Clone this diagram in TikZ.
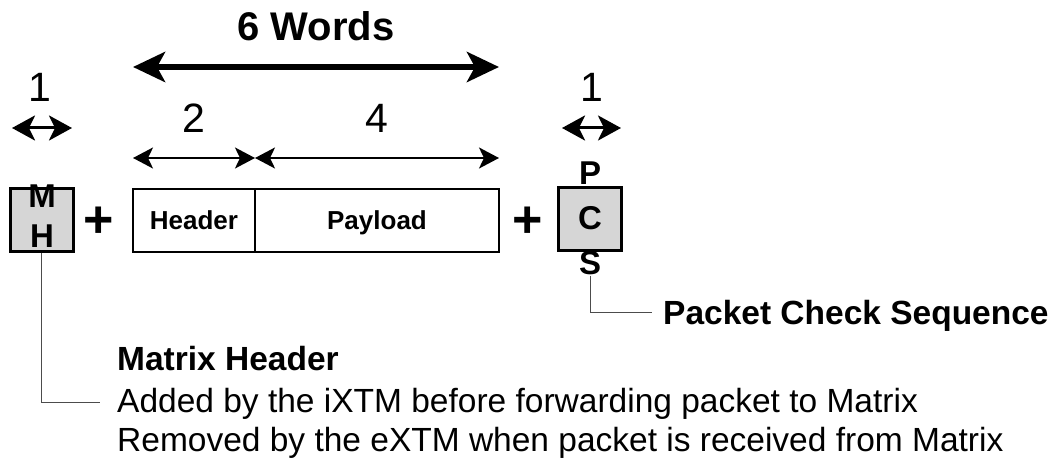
\documentclass[tikz,border=0pt]{standalone}
\usepackage{fontspec}
\setmainfont{Liberation Sans}
\usetikzlibrary{arrows.meta}
\begin{document}
\begin{tikzpicture}[x=1pt,y=-1pt,
  bigarrow/.style={line width=6pt,{Stealth[length=32pt,width=30pt,inset=8pt]}-{Stealth[length=32pt,width=30pt,inset=8pt]}},
  onearrow/.style={line width=3pt,{Stealth[length=23pt,width=25pt,inset=6pt]}-{Stealth[length=23pt,width=25pt,inset=6pt]}},
  midarrow/.style={line width=2pt,{Stealth[length=20pt,width=21pt,inset=5pt]}-{Stealth[length=20pt,width=21pt,inset=5pt]}},
  smallbox/.style={draw,line width=3pt,fill=black!16,minimum width=63pt,minimum height=63pt,inner sep=0pt},
  pktbox/.style={draw,line width=2.5pt,minimum height=63pt,inner sep=0pt,font=\fontsize{26}{30}\bfseries\selectfont,text height=19pt,text depth=0pt},
  letter/.style={font=\fontsize{33}{35}\bfseries\selectfont,inner sep=0pt,anchor=base},
  numlbl/.style={font=\fontsize{41}{44}\selectfont,inner sep=0pt,anchor=base},
  plus/.style={font=\fontsize{52}{54}\bfseries\selectfont,inner sep=0pt},
  callout/.style={line width=1pt,black!70},
  desc/.style={font=\fontsize{33.5}{38}\selectfont,inner sep=0pt,anchor=base west},
  descb/.style={font=\fontsize{33.5}{38}\bfseries\selectfont,inner sep=0pt,anchor=base west}
]
\useasboundingbox (0,0) rectangle (1057,462);

% top label and arrow
\node[font=\fontsize{40}{44}\bfseries\selectfont,inner sep=0pt,anchor=base] (words) at (316,41) {6 Words};
\coordinate (wl) at (133,67);
\coordinate (wr) at (499,67);
\draw[bigarrow] (wl) -- (wr);

% size labels
\node[numlbl] (one1) at (40,102) {1};
\node[numlbl] (one2) at (592,102) {1};
\node[numlbl] (two) at (194,133) {2};
\node[numlbl] (four) at (377,133) {4};

\coordinate (a1l) at (12,128);
\coordinate (a1r) at (72,128);
\draw[onearrow] (a1l) -- (a1r);
\coordinate (a2l) at (562,128);
\coordinate (a2r) at (621,128);
\draw[onearrow] (a2l) -- (a2r);

\coordinate (hl) at (133,158);
\coordinate (hm) at (255,158);
\coordinate (hr) at (499,158);
\draw[midarrow] (hl) -- (hm);
\draw[midarrow] (hm) -- (hr);

% boxes
\node[smallbox] (mh) at (41.5,220) {};
\node[letter] (mhM) at (42,208) {M};
\node[letter] (mhH) at (42,248) {H};

\node[plus] (plus1) at (99,222) {+};

\node[pktbox,minimum width=122pt] (hdr) at (194,220.5) {Header};
\node[pktbox,minimum width=244pt] (pay) at (377,220.5) {Payload};

\node[plus] (plus2) at (528,222) {+};

\node[smallbox] (pcs) at (590,219.5) {};
\node[letter] (pcsP) at (590,185) {P};
\node[letter] (pcsC) at (590,230) {C};
\node[letter] (pcsS) at (590,275) {S};

% callouts
\coordinate (mhend) at (100,402);
\draw[callout] (mh.south) |- (mhend);
\coordinate (pcsend) at (652,312);
\draw[callout] (pcsS.south) |- (pcsend);

\node[descb] (pcstxt) at (663,324) {Packet Check Sequence};
\node[descb] (mhtitle) at (117,370) {Matrix Header};
\node[desc] (mhl1) at (117,412) {Added by the iXTM before forwarding packet to Matrix};
\node[desc] (mhl2) at (117,451) {Removed by the eXTM when packet is received from Matrix};
\end{tikzpicture}
\end{document}
